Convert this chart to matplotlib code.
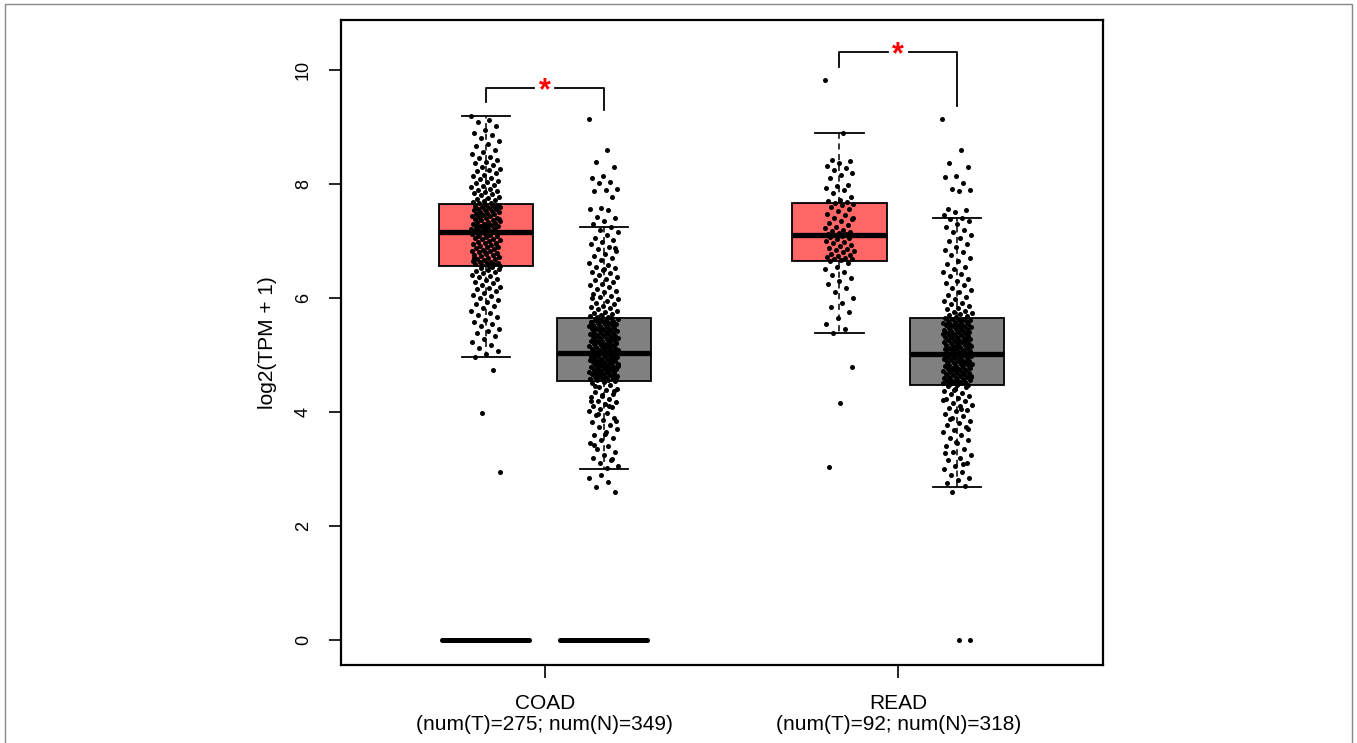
import numpy as np
import matplotlib
matplotlib.use("Agg")
import matplotlib.pyplot as plt
from matplotlib.patches import Rectangle

plt.rcParams['font.family'] = ['Liberation Sans', 'DejaVu Sans']

# ---------------- data ----------------
group_labels = ["COAD\n(num(T)=275; num(N)=349)", "READ\n(num(T)=92; num(N)=318)"]
box_positions = [1, 2, 4, 5]                     # T, N, T, N
box_colors = ["#FF6666", "#808080", "#FF6666", "#808080"]

# box statistics
q1 = [6.56, 4.54, 6.65, 4.47]
med = [7.16, 5.04, 7.10, 5.02]
q3 = [7.65, 5.65, 7.67, 5.65]
whislo = [4.96, 3.00, 5.39, 2.68]
whishi = [9.20, 7.25, 8.89, 7.40]

coad_t = [9.20, 9.12, 9.08, 9.02, 8.95, 8.90, 8.86, 8.80, 8.76, 8.71, 8.66, 8.60, 8.56, 8.52, 8.48,
          8.45, 8.42, 8.39, 8.36, 8.33, 8.30, 8.27, 8.25, 8.22, 8.19, 8.16, 8.14, 8.11, 8.09, 8.06,
          8.04, 8.01, 7.99, 7.96, 7.94, 7.92, 7.90, 7.88, 7.86, 7.84, 7.82, 7.80, 7.78, 7.76, 7.74,
          7.72, 7.71, 7.69, 7.67, 7.66,
          7.64, 7.63, 7.62, 7.61, 7.60, 7.59, 7.58, 7.57, 7.56, 7.55, 7.54, 7.53, 7.51, 7.50, 7.49,
          7.48, 7.47, 7.45, 7.44, 7.43, 7.42, 7.41, 7.40, 7.38, 7.37, 7.36, 7.35, 7.34, 7.33, 7.31,
          7.30, 7.29, 7.28, 7.27, 7.26, 7.25, 7.24, 7.23, 7.22, 7.21, 7.20, 7.19, 7.18, 7.17, 7.17,
          7.16, 7.47, 7.39, 7.32, 7.26,
          7.15, 7.14, 7.12, 7.11, 7.10, 7.08, 7.07, 7.05, 7.04, 7.03, 7.01, 7.00, 6.98, 6.97, 6.96,
          6.94, 6.93, 6.91, 6.90, 6.89, 6.87, 6.86, 6.84, 6.83, 6.82, 6.80, 6.79, 6.78, 6.76, 6.75,
          6.73, 6.72, 6.71, 6.69, 6.68, 6.67, 6.65, 6.64, 6.63, 6.62, 6.61, 6.60, 6.59, 6.58, 6.57,
          6.57, 7.09, 6.95, 6.81, 6.70,
          6.55, 6.53, 6.51, 6.49, 6.47, 6.45, 6.43, 6.41, 6.38, 6.36, 6.33, 6.31, 6.28, 6.26, 6.23,
          6.20, 6.18, 6.15, 6.12, 6.09, 6.06, 6.03, 6.00, 5.97, 5.93, 5.90, 5.86, 5.82, 5.78, 5.74,
          5.70, 5.66, 5.62, 5.58, 5.54, 5.50, 5.46, 5.42, 5.38, 5.33, 5.28, 5.23, 5.18, 5.13, 5.07,
          5.02, 4.97, 4.74, 3.98, 2.95]

coad_n = [9.14, 8.60, 8.39, 8.30, 8.14, 8.10, 8.04, 8.01, 7.91, 7.90, 7.88, 7.77, 7.58, 7.57, 7.55,
          7.42, 7.40, 7.35, 7.30,
          7.24, 7.20, 7.15, 7.11, 7.06, 7.02, 6.98, 6.94, 6.90, 6.86, 6.82, 6.78, 6.74, 6.70, 6.66,
          6.62, 6.58, 6.55, 6.52, 6.49, 6.46, 6.43, 6.40, 6.37, 6.34, 6.31, 6.28, 6.25, 6.22, 6.19,
          6.16, 6.13, 6.10, 6.07, 6.04, 6.01, 5.98, 5.95, 5.92, 5.89, 5.86, 5.84, 5.82, 5.80, 5.78,
          5.76, 5.74, 5.72, 5.70, 5.68, 5.67, 5.66, 6.88, 6.50, 6.00,
          5.65, 5.64, 5.63, 5.62, 5.61, 5.60, 5.59, 5.58, 5.57, 5.56, 5.55, 5.54, 5.53, 5.52, 5.51,
          5.50, 5.49, 5.48, 5.47, 5.46, 5.45, 5.44, 5.43, 5.42, 5.41, 5.40, 5.39, 5.38, 5.37, 5.36,
          5.35, 5.34, 5.33, 5.32, 5.31, 5.30, 5.29, 5.28, 5.27, 5.26, 5.25, 5.24, 5.23, 5.22, 5.21,
          5.20, 5.19, 5.18, 5.17, 5.16, 5.15, 5.14, 5.13, 5.12, 5.11, 5.10, 5.09, 5.08, 5.07, 5.06,
          5.05, 5.04, 5.58, 5.45, 5.33, 5.21, 5.12, 5.36, 5.27, 5.49, 5.09, 5.16,
          5.03, 5.02, 5.01, 5.00, 4.99, 4.98, 4.97, 4.96, 4.95, 4.94, 4.93, 4.92, 4.91, 4.90, 4.89,
          4.88, 4.87, 4.86, 4.85, 4.84, 4.83, 4.82, 4.81, 4.80, 4.79, 4.78, 4.77, 4.76, 4.75, 4.74,
          4.73, 4.72, 4.71, 4.70, 4.69, 4.68, 4.67, 4.66, 4.65, 4.64, 4.63, 4.62, 4.61, 4.60, 4.59,
          4.58, 4.57, 4.56, 4.55, 4.54, 4.99, 4.93, 4.87, 4.81, 4.75, 4.69, 4.63, 4.57, 4.96, 4.84,
          4.72, 4.60, 5.01, 4.90, 4.78, 4.66, 4.58, 4.70, 4.88, 4.95,
          4.53, 4.50, 4.47, 4.44, 4.41, 4.38, 4.35, 4.32, 4.29, 4.26, 4.23, 4.20, 4.17, 4.14, 4.11,
          4.08, 4.05, 4.02, 3.98, 3.94, 3.90, 3.86, 3.82, 3.78, 3.74, 3.70, 3.65, 3.60, 3.55, 3.50,
          3.45, 3.40, 3.35, 3.30, 3.25, 3.20, 3.15, 3.10, 3.05, 3.01, 4.45, 4.36, 4.28, 4.19, 4.10,
          3.96, 3.84, 3.62, 3.42, 3.18, 2.89, 2.84, 2.78, 2.68, 2.60]

read_t = [9.83, 8.89, 8.42, 8.40, 8.36, 8.31, 8.28, 8.25, 8.20, 8.16, 8.10, 7.98, 7.96, 7.93, 7.90,
          7.85, 7.78, 7.72, 7.70, 7.68,
          7.66, 7.65, 7.63, 7.60, 7.57, 7.52, 7.48, 7.45, 7.41, 7.38, 7.35, 7.31, 7.28, 7.25, 7.22,
          7.20, 7.18, 7.16, 7.14, 7.13, 7.12, 7.11, 7.40,
          7.09, 7.07, 7.05, 7.03, 7.00, 6.98, 6.96, 6.93, 6.91, 6.88, 6.86, 6.84, 6.82, 6.80, 6.78,
          6.76, 6.74, 6.72, 6.70, 6.69, 6.68, 6.66, 6.65,
          6.62, 6.55, 6.50, 6.45, 6.40, 6.35, 6.30, 6.25, 6.18, 6.10, 6.00, 5.92, 5.85, 5.75, 5.65,
          5.55, 5.45, 5.39, 4.79, 4.16, 3.04]

read_n = [9.14, 8.60, 8.37, 8.30, 8.14, 8.12, 8.02, 7.92, 7.90, 7.88, 7.57, 7.55, 7.50, 7.45,
          7.40, 7.38, 7.35, 7.30, 7.25, 7.20, 7.15, 7.10, 7.05, 7.00, 6.95, 6.90, 6.85, 6.80, 6.75,
          6.70, 6.65, 6.60, 6.55, 6.50, 6.46, 6.42, 6.38, 6.34, 6.30, 6.26, 6.22, 6.18, 6.14, 6.10,
          6.06, 6.02, 5.98, 5.95, 5.92, 5.89, 5.86, 5.83, 5.80, 5.78, 5.76, 5.74, 5.72, 5.70, 5.68,
          5.66,
          5.65, 5.64, 5.63, 5.62, 5.61, 5.60, 5.59, 5.58, 5.57, 5.56, 5.55, 5.54, 5.53, 5.52, 5.51,
          5.50, 5.49, 5.48, 5.47, 5.46, 5.45, 5.44, 5.43, 5.42, 5.41, 5.40, 5.39, 5.38, 5.37, 5.36,
          5.35, 5.34, 5.33, 5.32, 5.31, 5.30, 5.29, 5.28, 5.27, 5.26, 5.25, 5.24, 5.23, 5.22, 5.21,
          5.20, 5.19, 5.18, 5.17, 5.16, 5.15, 5.14, 5.13, 5.12, 5.11, 5.10, 5.09, 5.08, 5.07, 5.06,
          5.05, 5.04, 5.03, 5.02, 5.55, 5.41, 5.29, 5.18,
          5.01, 5.00, 4.99, 4.98, 4.97, 4.96, 4.95, 4.94, 4.93, 4.92, 4.91, 4.90, 4.89, 4.88, 4.87,
          4.86, 4.85, 4.84, 4.83, 4.82, 4.81, 4.80, 4.79, 4.78, 4.77, 4.76, 4.75, 4.74, 4.73, 4.72,
          4.71, 4.70, 4.69, 4.68, 4.67, 4.66, 4.65, 4.64, 4.63, 4.62, 4.61, 4.60, 4.59, 4.58, 4.57,
          4.56, 4.55, 4.54, 4.53, 4.52, 4.51, 4.50, 4.49, 4.48, 4.47, 4.97, 4.86, 4.74, 4.62, 4.53,
          4.46, 4.43, 4.40, 4.37, 4.34, 4.31, 4.28, 4.25, 4.22, 4.19, 4.16, 4.13, 4.10, 4.07, 4.04,
          4.01, 3.97, 3.93, 3.89, 3.85, 3.81, 3.77, 3.73, 3.69, 3.65, 3.60, 3.55, 3.50, 3.45, 3.40,
          3.35, 3.30, 3.25, 3.20, 3.15, 3.10, 3.05, 3.00, 2.95, 2.90, 2.85, 2.80, 2.75, 2.70, 4.38,
          4.21, 4.05, 3.87, 3.70, 3.48, 3.28, 3.08, 2.60, 0.0, 0.0]

# samples at zero in COAD (shown as a dense row across the box)
coad_t_zero = [0.0] * 90
coad_n_zero = [0.0] * 90

points = [coad_t, coad_n, read_t, read_n]
zero_rows = {1: coad_t_zero, 2: coad_n_zero}

# significance brackets: (x_left, x_right, top, left_leg_bottom, right_leg_bottom)
brackets = [(1, 2, 9.68, 9.44, 9.30), (4, 5, 10.32, 10.05, 9.37)]
sig_mark = "*"

# ---------------- figure ----------------
W, H = 1357, 743
fig = plt.figure(figsize=(W / 100, H / 100), dpi=100)
fig.patches.append(Rectangle((5 / W, -0.01), (1352 - 5) / W, 1.01 - 4 / H,
                             transform=fig.transFigure, fill=False,
                             edgecolor="#888888", linewidth=1.0, zorder=0))

ax = fig.add_axes([341 / W, 1 - 665 / H, (1103 - 341) / W, (665 - 20) / H])
ax.set_xlim(-0.229, 6.237)
ax.set_ylim(-0.4386, 10.877)

# boxes
stats = []
for i in range(4):
    stats.append(dict(med=med[i], q1=q1[i], q3=q3[i], whislo=whislo[i], whishi=whishi[i], fliers=[]))
bp = ax.bxp(stats, positions=box_positions, widths=0.8, patch_artist=True,
            showfliers=False, capwidths=0.41,
            boxprops=dict(linewidth=1.3, edgecolor="black"),
            medianprops=dict(color="black", linewidth=3.8, solid_capstyle="butt"),
            whiskerprops=dict(color="black", linewidth=1.1, linestyle=(0, (4, 3))),
            capprops=dict(color="black", linewidth=1.3))
for patch, c in zip(bp["boxes"], box_colors):
    patch.set_facecolor(c)
    patch.set_zorder(2)
for k in ("medians", "whiskers", "caps"):
    for a in bp[k]:
        a.set_zorder(2.5)

# jittered points (deterministic low-discrepancy jitter)
jit = 0.125
for pos, vals in zip(box_positions, points):
    v = np.asarray(vals)
    n = len(v)
    off = ((np.arange(n) * 0.6180339887) % 1.0 - 0.5) * 2 * jit
    ax.scatter(pos + off, v, s=13, color="black", linewidths=0, zorder=3)

for pos, vals in zero_rows.items():
    v = np.asarray(vals)
    n = len(v)
    xs = pos + np.linspace(-0.37, 0.37, n)
    ax.scatter(xs, v, s=13, color="black", linewidths=0, zorder=3)

# significance brackets
for xl, xr, top, lb, rb in brackets:
    xm = (xl + xr) / 2
    gap = 0.09
    ax.plot([xl, xl, xm - gap], [lb, top, top], color="black", lw=1.3, zorder=4, clip_on=False)
    ax.plot([xm + gap, xr, xr], [top, top, rb], color="black", lw=1.3, zorder=4, clip_on=False)
    ax.text(xm, top - 0.20, sig_mark, color="red", fontsize=22, fontweight="bold",
            ha="center", va="baseline", zorder=5)

# axes styling
for s in ax.spines.values():
    s.set_linewidth(1.6)
ax.set_yticks([0, 2, 4, 6, 8, 10])
ax.set_yticklabels(["0", "2", "4", "6", "8", "10"], rotation=90, va="center")
ax.tick_params(axis="y", length=9, width=1.2, labelsize=13, pad=12)
ax.set_xticks([1.5, 4.5])
ax.set_xticklabels(group_labels, linespacing=1.15)
ax.tick_params(axis="x", length=9, width=1.2, labelsize=15, pad=12)
ax.set_ylabel("log2(TPM + 1)", fontsize=15)
ax.yaxis.set_label_coords((277 - 341) / (1103 - 341), 0.5)

fig.savefig("out.png", dpi=100)
